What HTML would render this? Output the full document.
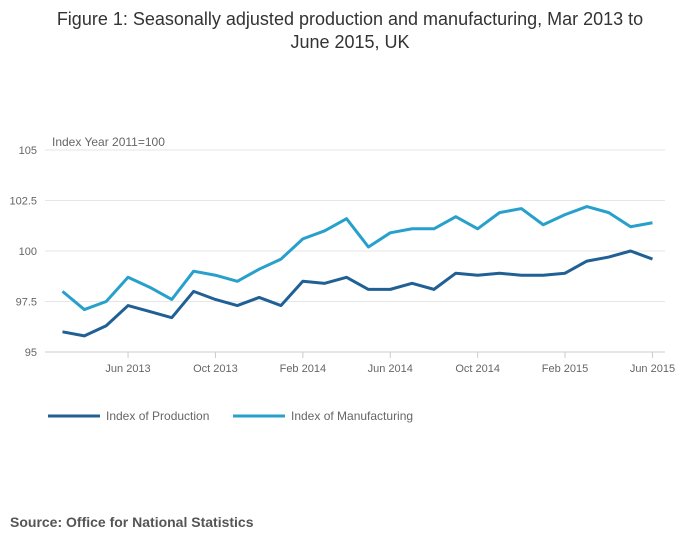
<!DOCTYPE html>
<html><head><meta charset="utf-8"><style>
body{margin:0;background:#fff;font-family:"Liberation Sans",sans-serif;}
#wrap{position:relative;width:700px;height:549px;overflow:hidden;}
#title{position:absolute;left:0;top:8px;width:700px;text-align:center;font-size:18px;color:#333;line-height:23px;}
#source{position:absolute;left:10px;top:514px;font-size:14px;font-weight:bold;color:#555;}
</style></head><body>
<div id="wrap">
<div id="title">Figure 1: Seasonally adjusted production and manufacturing, Mar 2013 to<br>June 2015, UK</div>
<svg id="chart" width="700" height="549" style="position:absolute;left:0;top:0"></svg>
<div id="source">Source: Office for National Statistics</div>
</div>
<script>
const months = ["Mar 2013","Apr 2013","May 2013","Jun 2013","Jul 2013","Aug 2013","Sep 2013","Oct 2013","Nov 2013","Dec 2013","Jan 2014","Feb 2014","Mar 2014","Apr 2014","May 2014","Jun 2014","Jul 2014","Aug 2014","Sep 2014","Oct 2014","Nov 2014","Dec 2014","Jan 2015","Feb 2015","Mar 2015","Apr 2015","May 2015","Jun 2015"];
const production = [96.0,95.8,96.3,97.3,97.0,96.7,98.0,97.6,97.3,97.7,97.3,98.5,98.4,98.7,98.1,98.1,98.4,98.1,98.9,98.8,98.9,98.8,98.8,98.9,99.5,99.7,100.0,99.6];
const manufacturing = [98.0,97.1,97.5,98.7,98.2,97.6,99.0,98.8,98.5,99.1,99.6,100.6,101.0,101.6,100.2,100.9,101.1,101.1,101.7,101.1,101.9,102.1,101.3,101.8,102.2,101.9,101.2,101.4];
const yTicks = [95,97.5,100,102.5,105];
const yTickLabels = ["95","97.5","100","102.5","105"];
const xTickIdx = [3,7,11,15,19,23,27];
const xTickLabels = ["Jun 2013","Oct 2013","Feb 2014","Jun 2014","Oct 2014","Feb 2015","Jun 2015"];

const svg = document.getElementById('chart');
const NS = "http://www.w3.org/2000/svg";
const x0 = 62.5, xStep = 21.85;
const xS = i => x0 + i * xStep;
const yS = v => 352 - (v - 95) * 20.2;
function mk(tag, attrs, parent){const e=document.createElementNS(NS,tag);for(const k in attrs)e.setAttribute(k,attrs[k]);(parent||svg).appendChild(e);return e;}

yTicks.forEach((v,i)=>{
  const l = mk('line',{x1:45,x2:665,y1:yS(v),y2:yS(v),stroke:i===0?'#ccc':'#e6e6e6','stroke-width':1});
  
  
  const t = mk('text',{x:37,y:yS(v)+4,'text-anchor':'end','font-size':11,fill:'#666','font-family':'Liberation Sans, sans-serif'});
  t.textContent = yTickLabels[i];
  
  
});
const yt = mk('text',{x:52,y:146,'font-size':12,fill:'#666','font-family':'Liberation Sans, sans-serif'});
yt.textContent='Index Year 2011=100';



xTickIdx.forEach((idx,i)=>{
  const l = mk('line',{x1:xS(idx),x2:xS(idx),y1:352,y2:358,stroke:'#ccc'});
  
  
  const t = mk('text',{x:xS(idx),y:372,'text-anchor':'middle','font-size':11,fill:'#666','font-family':'Liberation Sans, sans-serif'});
  t.textContent = xTickLabels[i];
  
  
});

function series(vals,color,name){
  const p = mk('polyline',{points:vals.map((v,i)=>xS(i)+','+yS(v)).join(' '),fill:'none',stroke:color,'stroke-width':3,'stroke-linejoin':'round'});
  
  
}
series(manufacturing,'#27a0cc','manufacturing-line');
series(production,'#206095','production-line');

function legend(x,color,label,name){
  const l = mk('line',{x1:x,x2:x+52,y1:416,y2:416,stroke:color,'stroke-width':3});
  
  
  const t = mk('text',{x:x+58,y:420,'font-size':12,fill:'#666','font-family':'Liberation Sans, sans-serif'});
  t.textContent = label;
  
  
}
legend(48,'#206095','Index of Production','legend-entry-production');
legend(233,'#27a0cc','Index of Manufacturing','legend-entry-manufacturing');
</script>
</body></html>
